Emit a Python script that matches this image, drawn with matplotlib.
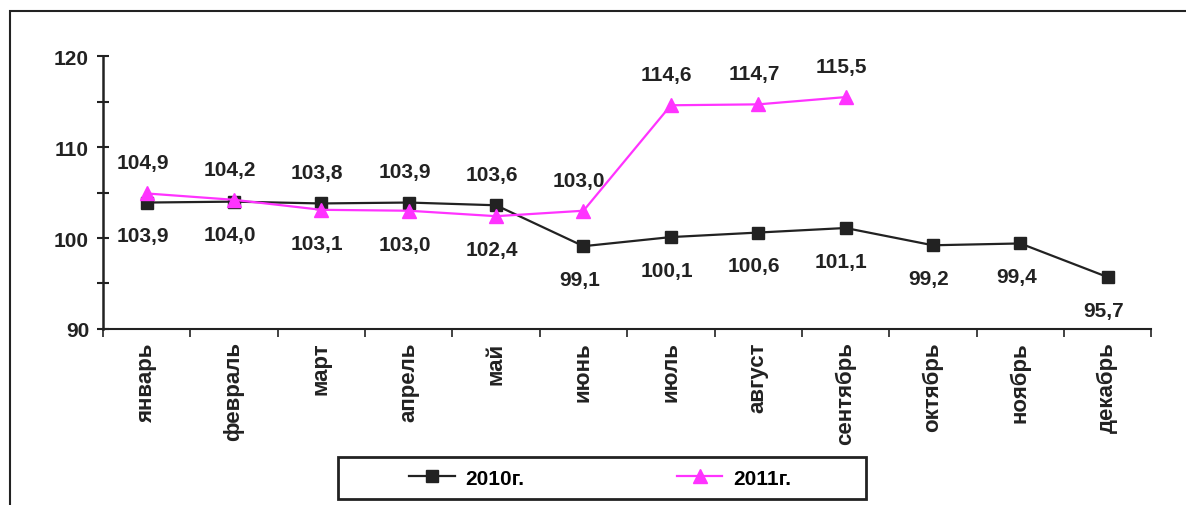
# line chart - 2010 vs 2011 monthly index

import matplotlib.pyplot as plt
import matplotlib.patches as patches
import numpy as np

months = ['январь', 'февраль', 'март', 'апрель', 'май', 'июнь',
          'июль', 'август', 'сентябрь', 'октябрь', 'ноябрь', 'декабрь']
y2010 = [103.9, 104.0, 103.8, 103.9, 103.6, 99.1, 100.1, 100.6, 101.1, 99.2, 99.4, 95.7]
y2011 = [104.9, 104.2, 103.1, 103.0, 102.4, 103.0, 114.6, 114.7, 115.5]

plt.rcParams['font.family'] = ['Liberation Sans', 'DejaVu Sans']
plt.rcParams['font.weight'] = 'bold'

fig = plt.figure(figsize=(11.86, 5.06), dpi=100)
ax = fig.add_axes([0.0868, 0.348, 0.884, 0.539])

black = '#222222'
pink = '#FF33FF'

x10 = np.arange(len(y2010))
x11 = np.arange(len(y2011))
ax.plot(x10, y2010, color=black, lw=1.6, marker='s', ms=8, label='2010г.')
ax.plot(x11, y2011, color=pink, lw=1.6, marker='^', ms=10, label='2011г.')

# value labels: above when higher than the other year, else below
def fmt(v):
    return f'{v:.1f}'.replace('.', ',')

for i, v in enumerate(y2010):
    above = i < len(y2011) and v > y2011[i]
    ax.annotate(fmt(v), (i, v), xytext=(-3, 22 if above else -24), textcoords='offset points',
                ha='center', va='center', fontsize=15, fontweight='bold', color=black)
for i, v in enumerate(y2011):
    above = v > y2010[i]
    ax.annotate(fmt(v), (i, v), xytext=(-3, 22 if above else -24), textcoords='offset points',
                ha='center', va='center', fontsize=15, fontweight='bold', color=black)

ax.set_xlim(-0.5, 11.5)
ax.set_ylim(90, 120)
ax.set_yticks([90, 100, 110, 120])
ax.set_yticks([95, 105, 115], minor=True)
ax.tick_params(axis='y', which='both', direction='inout', length=8, width=1.5, colors=black,
               labelsize=15, pad=6)

ax.set_xticks(x10)
ax.set_xticklabels(months, rotation=90, fontsize=16, fontweight='bold', color=black)
ax.set_xticks(np.arange(-0.5, 12, 1), minor=True)
ax.tick_params(axis='x', which='major', length=0, pad=9)
ax.tick_params(axis='x', which='minor', length=6, width=1.2, color=black)

for lbl in ax.get_yticklabels():
    lbl.set_fontweight('bold')

ax.spines['top'].set_visible(False)
ax.spines['right'].set_visible(False)
ax.spines['left'].set_linewidth(1.8)
ax.spines['bottom'].set_linewidth(1.5)
ax.spines['left'].set_color(black)
ax.spines['bottom'].set_color(black)

# outer frame
fig.patches.append(patches.Rectangle((0.0084, -0.1), 1.2, 1.076, transform=fig.transFigure,
                                     fill=False, edgecolor=black, lw=1.5))

# legend box drawn separately, legend itself without frame
fig.patches.append(patches.Rectangle((0.285, 0.0119), 0.445, 0.083, transform=fig.transFigure,
                                     facecolor='white', edgecolor=black, lw=2, zorder=3))
leg = fig.legend(loc='center', bbox_to_anchor=(0.506, 0.053), ncol=2, frameon=False,
                 fontsize=15, columnspacing=7.3, handlelength=2.2, handletextpad=0.5)
leg.set_zorder(4)
for t in leg.get_texts():
    t.set_fontweight('bold')

fig.savefig('out.png', dpi=100)
